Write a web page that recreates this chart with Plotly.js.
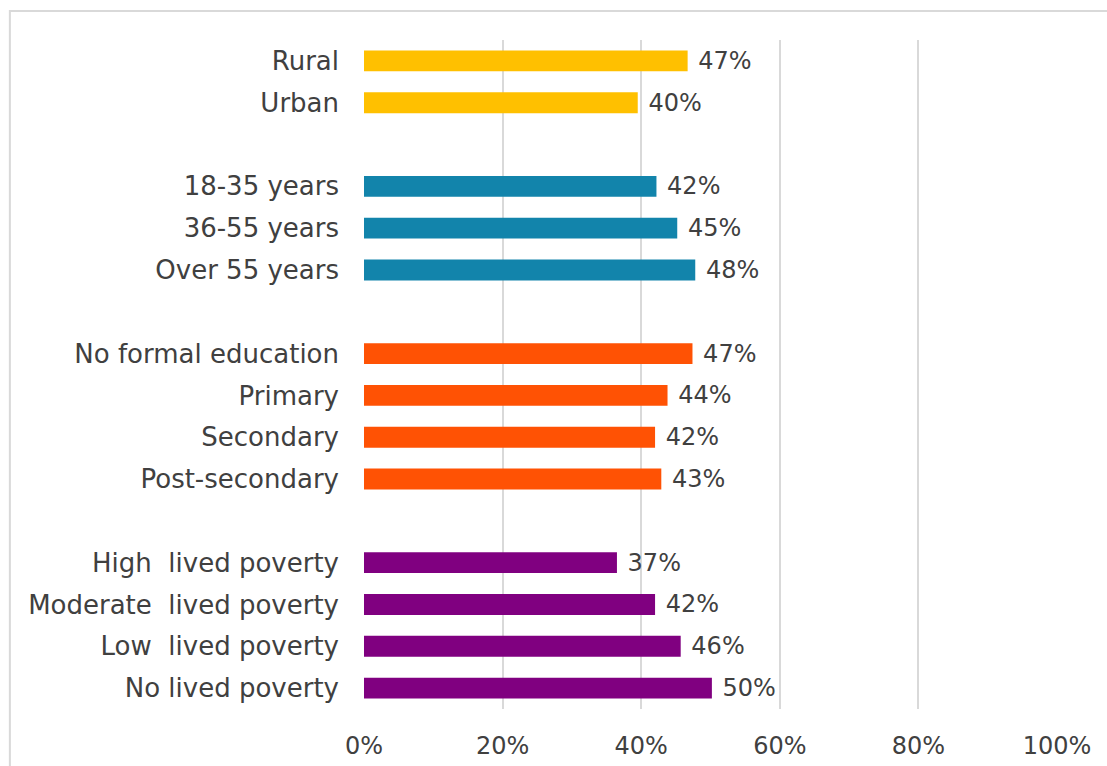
<!DOCTYPE html>
<html>
<head>
<meta charset="utf-8">
<script src="https://cdn.plot.ly/plotly-3.0.1.min.js"></script>
<style>html,body{margin:0;padding:0;background:#fff;}#chart{width:1107px;height:766px;}</style>
</head>
<body>
<div id="chart"></div>
<script>
// Data (bar lengths, in %)
const locationLabels = ["Rural", "Urban"];
const locationValues = [46.7, 39.5];
const ageLabels = ["18-35 years", "36-55 years", "Over 55 years"];
const ageValues = [42.2, 45.2, 47.8];
const educationLabels = ["No formal education", "Primary", "Secondary", "Post-secondary"];
const educationValues = [47.4, 43.8, 42.0, 42.9];
const povertyLabels = ["High  lived poverty", "Moderate  lived poverty", "Low  lived poverty", "No lived poverty"];
const povertyValues = [36.5, 42.0, 45.7, 50.2];
const xTickVals = [0, 20, 40, 60, 80, 100];
const xTickText = ["0%", "20%", "40%", "60%", "80%", "100%"];

const groups = [
  {labels: locationLabels, values: locationValues, color: "#FFC000"},
  {labels: ageLabels, values: ageValues, color: "#1284AB"},
  {labels: educationLabels, values: educationValues, color: "#FF5204"},
  {labels: povertyLabels, values: povertyValues, color: "#800080"}
];

const y = [], x = [], colors = [], texts = [];
groups.forEach((g, gi) => {
  if (gi > 0) {
    y.push(" ".repeat(gi)); x.push(null); colors.push("rgba(0,0,0,0)"); texts.push("");
  }
  g.labels.forEach((l, i) => {
    y.push(l); x.push(g.values[i]); colors.push(g.color);
    texts.push("\u00a0" + Math.round(g.values[i]) + "%");
  });
});

const fontFam = "'Century Gothic', 'DejaVu Sans', sans-serif";
const trace = {
  type: "bar",
  orientation: "h",
  y: y,
  x: x,
  marker: {color: colors},
  width: 0.5,
  text: texts,
  textposition: "outside",
  constraintext: "none",
  cliponaxis: false,
  textfont: {family: fontFam, size: 24, color: "#404040"},
  hoverinfo: "none"
};

const layout = {
  width: 1107,
  height: 766,
  margin: {l: 364, r: 50, t: 40, b: 57},
  paper_bgcolor: "#ffffff",
  plot_bgcolor: "#ffffff",
  showlegend: false,
  font: {family: fontFam, size: 26, color: "#404040"},
  xaxis: {
    range: [0, 100],
    tickvals: xTickVals,
    ticktext: xTickText,
    tickfont: {size: 24},
    showgrid: true,
    gridcolor: "#d9d9d9",
    gridwidth: 2,
    zeroline: false,
    showline: false,
    ticks: "",
    ticklabelstandoff: 20,
    fixedrange: true
  },
  yaxis: {
    type: "category",
    autorange: "reversed",
    showgrid: false,
    zeroline: false,
    showline: false,
    ticks: "",
    ticklabelstandoff: 24,
    fixedrange: true
  },
  shapes: [{
    type: "rect", xref: "paper", yref: "paper",
    x0: -0.511, x1: 1.3, y0: -0.3, y1: 1.0433,
    line: {color: "#d9d9d9", width: 2}, fillcolor: "rgba(0,0,0,0)", layer: "below"
  }]
};

Plotly.newPlot("chart", [trace], layout, {displayModeBar: false, staticPlot: true});
</script>
</body>
</html>
